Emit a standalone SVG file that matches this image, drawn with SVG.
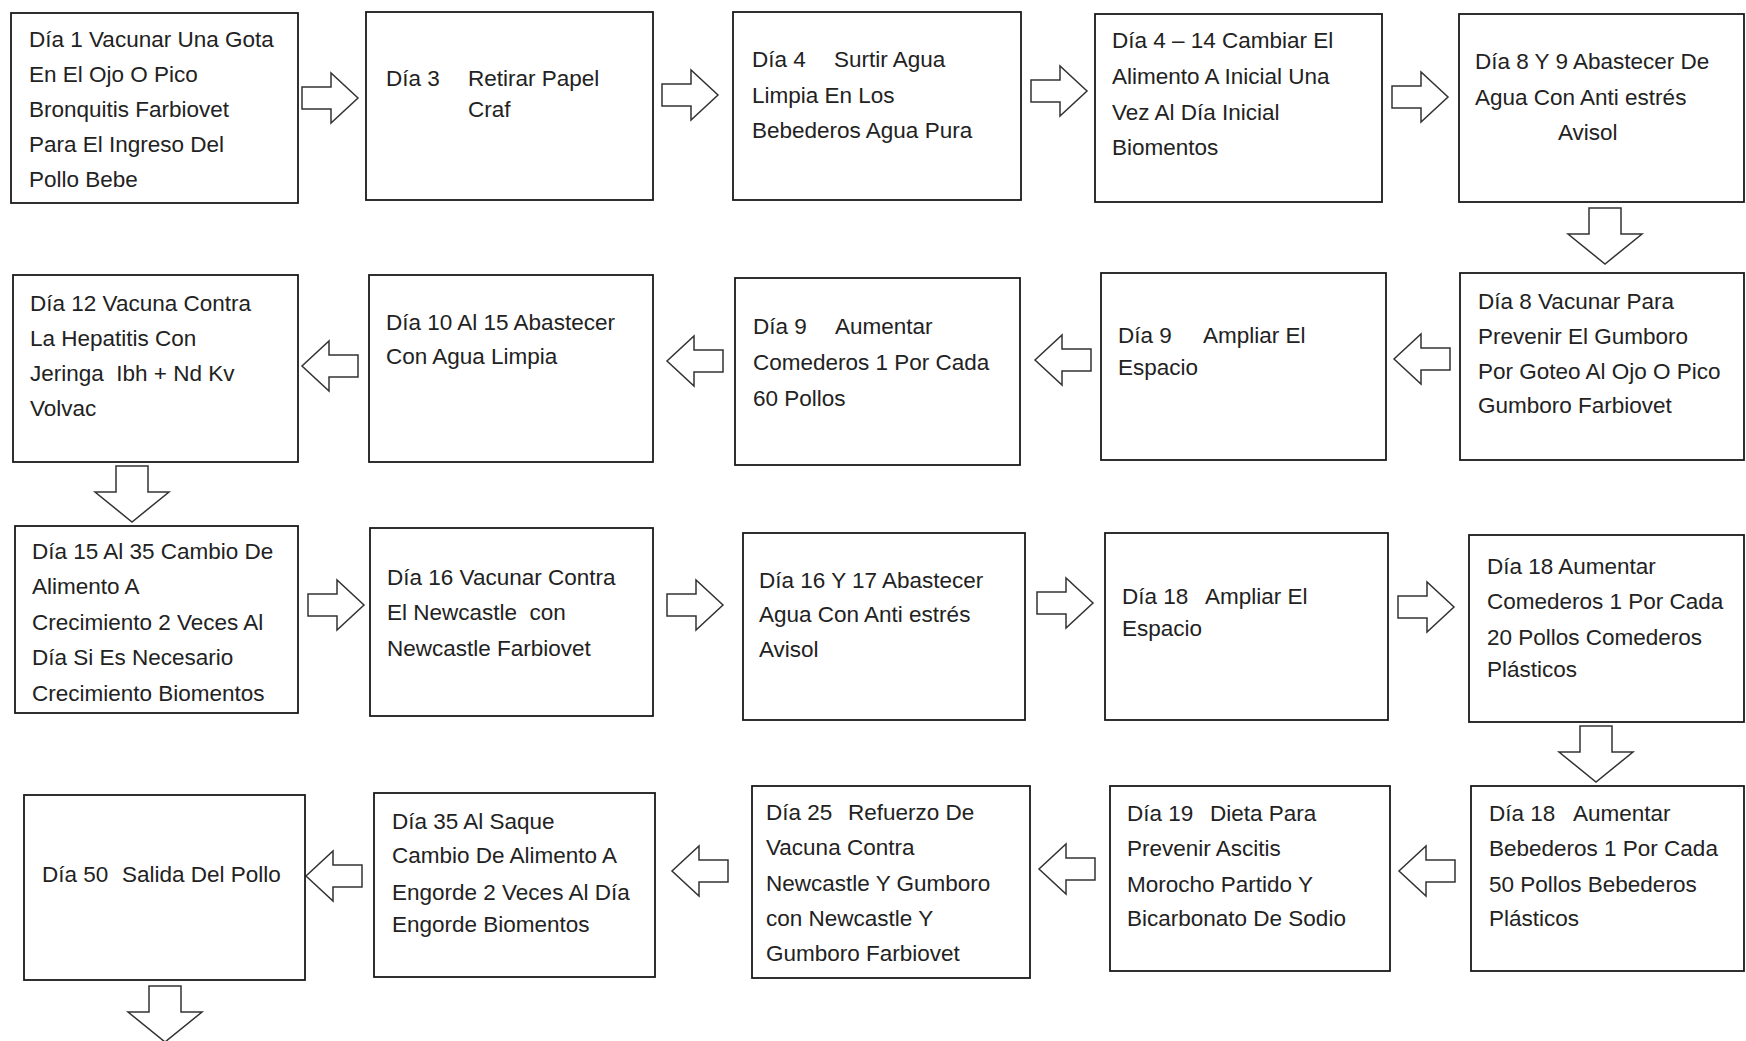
<svg xmlns="http://www.w3.org/2000/svg" xmlns:xlink="http://www.w3.org/1999/xlink" width="1746" height="1041" viewBox="0 0 1746 1041">
<style>
.box{fill:#fff;stroke:#1a1a1a;stroke-width:1.8}
.t{font-family:"Liberation Sans",Arial,sans-serif;font-size:22.5px;fill:#222;white-space:pre}
.arr{fill:#fff;stroke:#333;stroke-width:1.5;stroke-linejoin:miter}
</style>
<defs>
<path id="ar" class="arr" d="M0,-11 H29 V-25 L56,0 L29,25 V11 H0 Z"/>
<path id="al" class="arr" d="M56,-11 H27 V-25 L0,0 L27,25 V11 H56 Z"/>
<path id="ad" class="arr" d="M-16,0 H16 V26 H37 L0,56 L-37,26 H-16 Z"/>
</defs>
<rect width="1746" height="1041" fill="#fff"/>

<g id="connectors">
<use href="#ar" x="302" y="98"/>
<use href="#ar" x="662" y="95"/>
<use href="#ar" x="1031" y="91"/>
<use href="#ar" x="1392" y="97"/>
<use href="#ad" x="1605" y="208"/>
<use href="#al" x="1394" y="359"/>
<use href="#al" x="1035" y="360"/>
<use href="#al" x="667" y="361"/>
<use href="#al" x="302" y="366"/>
<use href="#ad" x="132" y="466"/>
<use href="#ar" x="308" y="605"/>
<use href="#ar" x="667" y="605"/>
<use href="#ar" x="1037" y="603"/>
<use href="#ar" x="1398" y="607"/>
<use href="#ad" x="1596" y="726"/>
<use href="#al" x="1399" y="871"/>
<use href="#al" x="1039" y="869"/>
<use href="#al" x="672" y="871"/>
<use href="#al" x="306" y="876"/>
<use href="#ad" x="165" y="986"/>
</g>

<g id="n1"><rect class="box" x="11" y="13" width="287" height="190"/>
<text class="t"><tspan x="29" y="47">Día 1 Vacunar Una Gota</tspan><tspan x="29" y="82">En El Ojo O Pico</tspan><tspan x="29" y="117">Bronquitis Farbiovet</tspan><tspan x="29" y="152">Para El Ingreso Del</tspan><tspan x="29" y="187">Pollo Bebe</tspan></text></g>

<g id="n2"><rect class="box" x="366" y="12" width="287" height="188"/>
<text class="t"><tspan x="386" y="86">Día 3</tspan><tspan x="468" y="86">Retirar Papel</tspan><tspan x="468" y="117">Craf</tspan></text></g>

<g id="n3"><rect class="box" x="733" y="12" width="288" height="188"/>
<text class="t"><tspan x="752" y="67">Día 4</tspan><tspan x="834" y="67">Surtir Agua</tspan><tspan x="752" y="103">Limpia En Los</tspan><tspan x="752" y="138">Bebederos Agua Pura</tspan></text></g>

<g id="n4"><rect class="box" x="1095" y="14" width="287" height="188"/>
<text class="t"><tspan x="1112" y="48">Día 4 – 14 Cambiar El</tspan><tspan x="1112" y="84">Alimento A Inicial Una</tspan><tspan x="1112" y="120">Vez Al Día Inicial</tspan><tspan x="1112" y="155">Biomentos</tspan></text></g>

<g id="n5"><rect class="box" x="1459" y="14" width="285" height="188"/>
<text class="t"><tspan x="1475" y="69">Día 8 Y 9 Abastecer De</tspan><tspan x="1475" y="105">Agua Con Anti estrés</tspan><tspan x="1558" y="140">Avisol</tspan></text></g>

<g id="n6"><rect class="box" x="13" y="275" width="285" height="187"/>
<text class="t"><tspan x="30" y="311">Día 12 Vacuna Contra</tspan><tspan x="30" y="346">La Hepatitis Con</tspan><tspan x="30" y="381">Jeringa  Ibh + Nd Kv</tspan><tspan x="30" y="416">Volvac</tspan></text></g>

<g id="n7"><rect class="box" x="369" y="275" width="284" height="187"/>
<text class="t"><tspan x="386" y="330">Día 10 Al 15 Abastecer</tspan><tspan x="386" y="364">Con Agua Limpia</tspan></text></g>

<g id="n8"><rect class="box" x="735" y="278" width="285" height="187"/>
<text class="t"><tspan x="753" y="334">Día 9</tspan><tspan x="835" y="334">Aumentar</tspan><tspan x="753" y="370">Comederos 1 Por Cada</tspan><tspan x="753" y="406">60 Pollos</tspan></text></g>

<g id="n9"><rect class="box" x="1101" y="273" width="285" height="187"/>
<text class="t"><tspan x="1118" y="343">Día 9</tspan><tspan x="1203" y="343">Ampliar El</tspan><tspan x="1118" y="375">Espacio</tspan></text></g>

<g id="n10"><rect class="box" x="1460" y="273" width="284" height="187"/>
<text class="t"><tspan x="1478" y="309">Día 8 Vacunar Para</tspan><tspan x="1478" y="344">Prevenir El Gumboro</tspan><tspan x="1478" y="379">Por Goteo Al Ojo O Pico</tspan><tspan x="1478" y="413">Gumboro Farbiovet</tspan></text></g>

<g id="n11"><rect class="box" x="15" y="526" width="283" height="187"/>
<text class="t"><tspan x="32" y="559">Día 15 Al 35 Cambio De</tspan><tspan x="32" y="594">Alimento A</tspan><tspan x="32" y="630">Crecimiento 2 Veces Al</tspan><tspan x="32" y="665">Día Si Es Necesario</tspan><tspan x="32" y="701">Crecimiento Biomentos</tspan></text></g>

<g id="n12"><rect class="box" x="370" y="528" width="283" height="188"/>
<text class="t"><tspan x="387" y="585">Día 16 Vacunar Contra</tspan><tspan x="387" y="620">El Newcastle  con</tspan><tspan x="387" y="656">Newcastle Farbiovet</tspan></text></g>

<g id="n13"><rect class="box" x="743" y="533" width="282" height="187"/>
<text class="t"><tspan x="759" y="588">Día 16 Y 17 Abastecer</tspan><tspan x="759" y="622">Agua Con Anti estrés</tspan><tspan x="759" y="657">Avisol</tspan></text></g>

<g id="n14"><rect class="box" x="1105" y="533" width="283" height="187"/>
<text class="t"><tspan x="1122" y="604">Día 18</tspan><tspan x="1205" y="604">Ampliar El</tspan><tspan x="1122" y="636">Espacio</tspan></text></g>

<g id="n15"><rect class="box" x="1469" y="535" width="275" height="187"/>
<text class="t"><tspan x="1487" y="574">Día 18 Aumentar</tspan><tspan x="1487" y="609">Comederos 1 Por Cada</tspan><tspan x="1487" y="645">20 Pollos Comederos</tspan><tspan x="1487" y="677">Plásticos</tspan></text></g>

<g id="n16"><rect class="box" x="24" y="795" width="281" height="185"/>
<text class="t"><tspan x="42" y="882">Día 50</tspan><tspan x="122" y="882">Salida Del Pollo</tspan></text></g>

<g id="n17"><rect class="box" x="374" y="793" width="281" height="184"/>
<text class="t"><tspan x="392" y="829">Día 35 Al Saque</tspan><tspan x="392" y="863">Cambio De Alimento A</tspan><tspan x="392" y="900">Engorde 2 Veces Al Día</tspan><tspan x="392" y="932">Engorde Biomentos</tspan></text></g>

<g id="n18"><rect class="box" x="752" y="786" width="278" height="192"/>
<text class="t"><tspan x="766" y="820">Día 25</tspan><tspan x="848" y="820">Refuerzo De</tspan><tspan x="766" y="855">Vacuna Contra</tspan><tspan x="766" y="891">Newcastle Y Gumboro</tspan><tspan x="766" y="926">con Newcastle Y</tspan><tspan x="766" y="961">Gumboro Farbiovet</tspan></text></g>

<g id="n19"><rect class="box" x="1110" y="786" width="280" height="185"/>
<text class="t"><tspan x="1127" y="821">Día 19</tspan><tspan x="1210" y="821">Dieta Para</tspan><tspan x="1127" y="856">Prevenir Ascitis</tspan><tspan x="1127" y="892">Morocho Partido Y</tspan><tspan x="1127" y="926">Bicarbonato De Sodio</tspan></text></g>

<g id="n20"><rect class="box" x="1471" y="786" width="273" height="185"/>
<text class="t"><tspan x="1489" y="821">Día 18</tspan><tspan x="1573" y="821">Aumentar</tspan><tspan x="1489" y="856">Bebederos 1 Por Cada</tspan><tspan x="1489" y="892">50 Pollos Bebederos</tspan><tspan x="1489" y="926">Plásticos</tspan></text></g>
</svg>
